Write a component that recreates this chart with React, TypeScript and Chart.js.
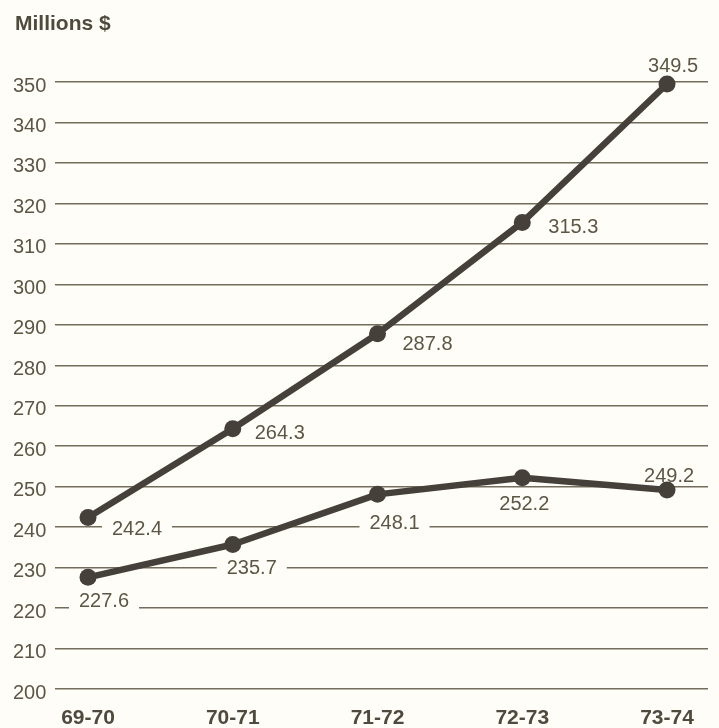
import { useEffect, useRef } from "react";
import { Chart, registerables } from "chart.js";

Chart.register(...registerables);

// ---- data ----
const categories = ["69-70", "70-71", "71-72", "72-73", "73-74"];
const upperSeries = [242.4, 264.3, 287.8, 315.3, 349.5];
const lowerSeries = [227.6, 235.7, 248.1, 252.2, 249.2];
const yMin = 200;
const yMax = 350;
const yStep = 10;
const unitTitle = "Millions $";

// ---- label placement (pixel offsets from each point) ----
const upperLabelOffsets: [number, number][] = [
  [49, 11],
  [47, 3],
  [50, 9],
  [51, 4],
  [6, -19],
];
const lowerLabelOffsets: [number, number][] = [
  [16, 23],
  [19, 22],
  [17, 28],
  [2, 25],
  [2, -15],
];

// ---- styling ----
const FONT = "'Liberation Sans', Arial, Helvetica, sans-serif";
const BG = "#fefdf8";
const LINE = "#46403a";
const GRID = "#736d5b";
const TEXT = "#5c5646";
const BOLD_TEXT = "#4f4a3e";

const labelOffsets = [upperLabelOffsets, lowerLabelOffsets];

const decorations = {
  id: "decorations",
  beforeDraw(chart: any) {
    const ctx = chart.ctx;
    ctx.save();
    ctx.fillStyle = BG;
    ctx.fillRect(0, 0, chart.width, chart.height);
    ctx.restore();
  },
  // label backdrops cut the grid lines but sit under the series
  beforeDatasetsDraw(chart: any) {
    const ctx = chart.ctx;
    ctx.save();
    ctx.font = `20px ${FONT}`;
    chart.data.datasets.forEach((ds: any, di: number) => {
      const meta = chart.getDatasetMeta(di);
      meta.data.forEach((pt: any, i: number) => {
        const text = ds.data[i].y.toFixed(1);
        const w = ctx.measureText(text).width;
        const [dx, dy] = labelOffsets[di][i];
        const cx = pt.x + dx;
        const cy = pt.y + dy;
        ctx.fillStyle = BG;
        ctx.fillRect(cx - w / 2 - 10, cy - 10, w + 20, 20);
      });
    });
    ctx.restore();
  },
  afterDatasetsDraw(chart: any) {
    const ctx = chart.ctx;
    ctx.save();
    ctx.font = `20px ${FONT}`;
    ctx.fillStyle = TEXT;
    ctx.textAlign = "center";
    ctx.textBaseline = "alphabetic";
    chart.data.datasets.forEach((ds: any, di: number) => {
      const meta = chart.getDatasetMeta(di);
      meta.data.forEach((pt: any, i: number) => {
        const text = ds.data[i].y.toFixed(1);
        const [dx, dy] = labelOffsets[di][i];
        ctx.fillText(text, pt.x + dx, pt.y + dy + 7);
      });
    });
    // unit title
    ctx.font = `bold 21px ${FONT}`;
    ctx.fillStyle = BOLD_TEXT;
    ctx.textAlign = "left";
    ctx.fillText(unitTitle, 15, 30);
    ctx.restore();
  },
};

export default function App() {
  const canvasRef = useRef<HTMLCanvasElement | null>(null);

  useEffect(() => {
    if (!canvasRef.current) return;
    const toPoints = (arr: number[]) => arr.map((y, i) => ({ x: i, y }));
    const seriesStyle = {
      borderColor: LINE,
      backgroundColor: LINE,
      borderWidth: 6.5,
      pointRadius: 8.5,
      pointBorderWidth: 0,
      pointBackgroundColor: LINE,
      tension: 0,
      borderJoinStyle: "round" as const,
      borderCapStyle: "round" as const,
      clip: false as const,
    };
    const chart = new Chart(canvasRef.current, {
      type: "line",
      data: {
        datasets: [
          { label: "upper", data: toPoints(upperSeries), ...seriesStyle },
          { label: "lower", data: toPoints(lowerSeries), ...seriesStyle },
        ],
      },
      options: {
        animation: false,
        responsive: false,
        devicePixelRatio: 1,
        events: [],
        layout: { padding: { left: 13, top: 82, right: 11, bottom: 0 } },
        plugins: {
          legend: { display: false },
          tooltip: { enabled: false },
          title: { display: false },
        },
        scales: {
          x: {
            type: "linear",
            min: -0.228,
            max: 4.283,
            afterBuildTicks: (s: any) => {
              s.ticks = categories.map((_, i) => ({ value: i }));
            },
            afterFit: (s: any) => {
              s.height = 39;
            },
            grid: { display: false },
            border: { display: false },
            ticks: {
              autoSkip: false,
              maxRotation: 0,
              padding: 9,
              color: BOLD_TEXT,
              font: { family: FONT, size: 21, weight: "bold" },
              callback: (v: any) => categories[v] ?? "",
            },
          },
          y: {
            min: yMin,
            max: yMax,
            afterFit: (s: any) => {
              s.width = 42;
            },
            grid: { color: GRID, lineWidth: 1.5, drawTicks: false },
            border: { display: false },
            ticks: {
              stepSize: yStep,
              crossAlign: "far",
              labelOffset: 4,
              padding: 0,
              color: TEXT,
              font: { family: FONT, size: 20 },
            },
          },
        },
      },
      plugins: [decorations],
    });
    return () => chart.destroy();
  }, []);

  return (
    <div style={{ position: "fixed", left: 0, top: 0, width: 719, height: 728, background: BG }}>
      <canvas ref={canvasRef} width={719} height={728} />
    </div>
  );
}
